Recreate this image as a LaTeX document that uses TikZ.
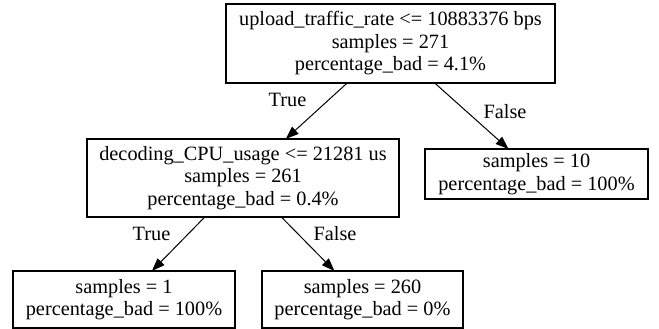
\documentclass[tikz,border=0pt]{standalone}
\usepackage{fontspec}
\setmainfont{Liberation Serif}
\usetikzlibrary{arrows.meta}

\begin{document}
\begin{tikzpicture}[x=1pt,y=1pt,
    tree_node/.style={draw,line width=1.1pt,rectangle,align=center,inner sep=0pt,outer sep=0pt,font=\fontsize{20.3}{22.5}\selectfont},
    edge_label/.style={inner sep=0pt,font=\fontsize{20.3}{22.5}\selectfont},
    tree_edge/.style={line width=1pt,-{Triangle[length=13pt,width=9.5pt]}}]
    \useasboundingbox (0,0) rectangle (659,329);
    \node[tree_node,minimum width=329pt,minimum height=79pt] (root) at (390.5,285.5) {upload\_traffic\_rate <= 10883376 bps\\samples = 271\\percentage\_bad = 4.1\%};
    \node[tree_node,minimum width=312pt,minimum height=78pt] (cpu) at (243,151) {decoding\_CPU\_usage <= 21281 us\\samples = 261\\percentage\_bad = 0.4\%};
    \node[tree_node,minimum width=223pt,minimum height=50pt] (leaf_10) at (536.5,155) {samples = 10\\percentage\_bad = 100\%};
    \node[tree_node,minimum width=222pt,minimum height=57pt] (leaf_1) at (124,29.5) {samples = 1\\percentage\_bad = 100\%};
    \node[tree_node,minimum width=201pt,minimum height=57pt] (leaf_260) at (362.5,29.5) {samples = 260\\percentage\_bad = 0\%};
    \node[edge_label] (t1) at (287.5,229) {True};
    \node[edge_label] (f1) at (505,217.5) {False};
    \node[edge_label] (t2) at (151.5,95.5) {True};
    \node[edge_label] (f2) at (335,95.5) {False};
    \draw[tree_edge] (root) -- (cpu);
    \draw[tree_edge] (root) -- (leaf_10);
    \draw[tree_edge] (cpu) -- (leaf_1);
    \draw[tree_edge] (cpu) -- (leaf_260);
\end{tikzpicture}
\end{document}
